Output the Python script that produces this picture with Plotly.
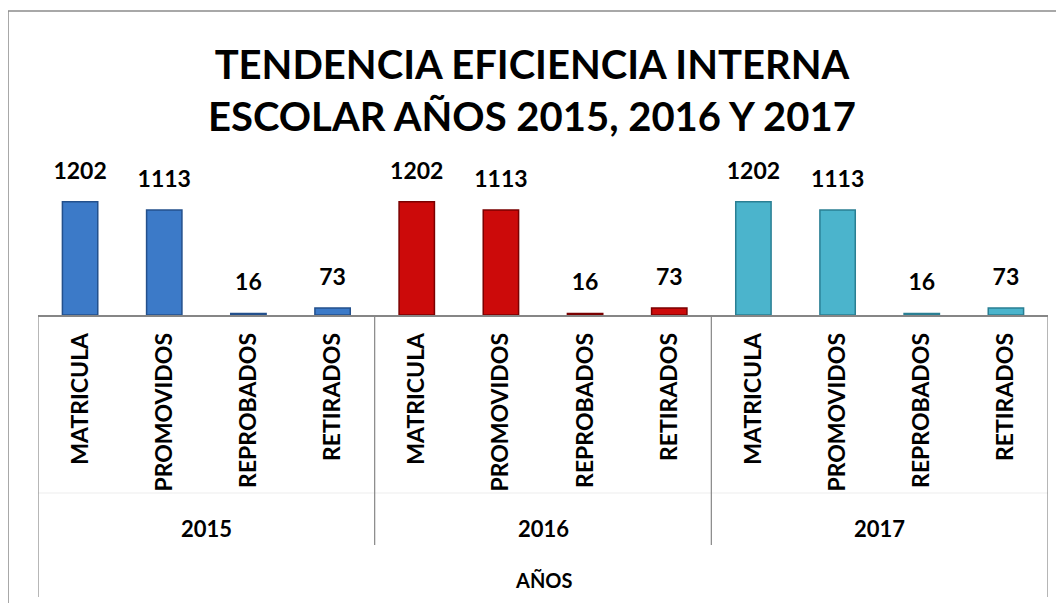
"""
Gráfico de barras: tendencia de la eficiencia interna escolar 2015-2017.
"""
import plotly.graph_objects as go

# Datos
anios: list[str] = ["2015", "2016", "2017"]
categorias: list[str] = ["MATRICULA", "PROMOVIDOS", "REPROBADOS", "RETIRADOS"]
valores_2015: list[int] = [1202, 1113, 16, 73]
valores_2016: list[int] = [1202, 1113, 16, 73]
valores_2017: list[int] = [1202, 1113, 16, 73]

# Estilos
FUENTE: str = "Lato"
GRIS: str = "#868686"
colores: dict[str, tuple[str, str]] = {
	"2015": ("#3C7AC8", "#23508C"),
	"2016": ("#CC0A0A", "#7A0000"),
	"2017": ("#4BB4CC", "#2A7F93"),
}

# Geometría (en píxeles de la captura); la página añade 8 px de margen al body
OFFSET: int = 8
ANCHO, ALTO = 1064, 603
X0, X1 = 38 - OFFSET, 1048 - OFFSET
Y_BASE, Y_TOP = 315 - OFFSET, 183 - OFFSET
alto_area: int = Y_BASE - Y_TOP


def py(p: float) -> float:
	""" Convierte un píxel vertical (de la captura) a coordenada 'paper'. """
	return (Y_BASE - (p - OFFSET)) / alto_area


def px(p: float) -> float:
	""" Convierte un píxel horizontal (de la captura) a coordenada 'paper'. """
	return ((p - OFFSET) - X0) / (X1 - X0)


fig = go.Figure()
series = {"2015": valores_2015, "2016": valores_2016, "2017": valores_2017}
n: int = len(categorias)
for g, anio in enumerate(anios):
	relleno, borde = colores[anio]
	xs = [g * n + i for i in range(n)]
	fig.add_trace(go.Bar(
		x=xs,
		y=series[anio],
		width=0.42,
		marker=dict(color=relleno, line=dict(color=borde, width=1.5)),
		showlegend=False,
		hoverinfo="skip",
	))
	# Etiquetas de datos (marcador invisible para separarlas de la barra)
	fig.add_trace(go.Scatter(
		x=xs,
		y=series[anio],
		mode="markers+text",
		marker=dict(size=26, opacity=0),
		text=[str(v) for v in series[anio]],
		textposition="top center",
		textfont=dict(family=FUENTE, size=23, color="#000000", weight="bold"),
		cliponaxis=False,
		showlegend=False,
		hoverinfo="skip",
	))

# Formas: marco exterior, separadores de grupos y línea tenue entre niveles
formas = [
	dict(type="rect", xref="paper", yref="paper",
		x0=px(8), x1=px(1100), y0=py(700), y1=py(11),
		line=dict(color="#8C8C8C", width=1.5), layer="below"),
	dict(type="line", xref="paper", yref="paper",
		x0=0, x1=1, y0=py(493), y1=py(493),
		line=dict(color="#EDEDED", width=1)),
]
for xs_div, y_fin in [(-0.5, 597), (3.5, 545), (7.5, 545), (11.5, 597)]:
	formas.append(dict(type="line", xref="x", yref="paper",
		x0=xs_div, x1=xs_div, y0=0, y1=py(y_fin),
		line=dict(color=GRIS, width=1.2)))

# Anotaciones: título, años y rótulo del eje
anotaciones = [
	dict(text="TENDENCIA EFICIENCIA INTERNA<br>ESCOLAR AÑOS 2015, 2016 Y 2017",
		xref="paper", yref="paper", x=px(ANCHO / 2), y=py(90),
		xanchor="center", yanchor="middle", showarrow=False,
		font=dict(family=FUENTE, size=40, color="#000000", weight="bold")),
	dict(text="AÑOS", xref="paper", yref="paper", x=0.5, y=py(580),
		xanchor="center", yanchor="middle", showarrow=False,
		font=dict(family=FUENTE, size=20, color="#000000", weight="bold")),
]
for g, anio in enumerate(anios):
	anotaciones.append(dict(text=anio, xref="x", yref="paper",
		x=g * n + (n - 1) / 2, y=py(528),
		xanchor="center", yanchor="middle", showarrow=False,
		font=dict(family=FUENTE, size=22, color="#000000", weight="bold")))

fig.update_layout(
	width=ANCHO,
	height=ALTO,
	margin=dict(l=X0, r=ANCHO - X1, t=Y_TOP, b=ALTO - Y_BASE, pad=0, autoexpand=False),
	paper_bgcolor="#FFFFFF",
	plot_bgcolor="#FFFFFF",
	shapes=formas,
	annotations=anotaciones,
	xaxis=dict(
		range=[-0.5, len(anios) * n - 0.5],
		tickmode="array",
		tickvals=list(range(len(anios) * n)),
		ticktext=categorias * len(anios),
		tickangle=-90,
		ticks="",
		ticklabelstandoff=7,
		tickfont=dict(family=FUENTE, size=23, color="#000000", weight="bold"),
		showline=True,
		linecolor=GRIS,
		linewidth=1.5,
		showgrid=False,
		zeroline=False,
		automargin=False,
		fixedrange=True,
	),
	yaxis=dict(
		range=[0, 1400],
		visible=False,
		showgrid=False,
		fixedrange=True,
	),
)

fig.write_html("out.html")
